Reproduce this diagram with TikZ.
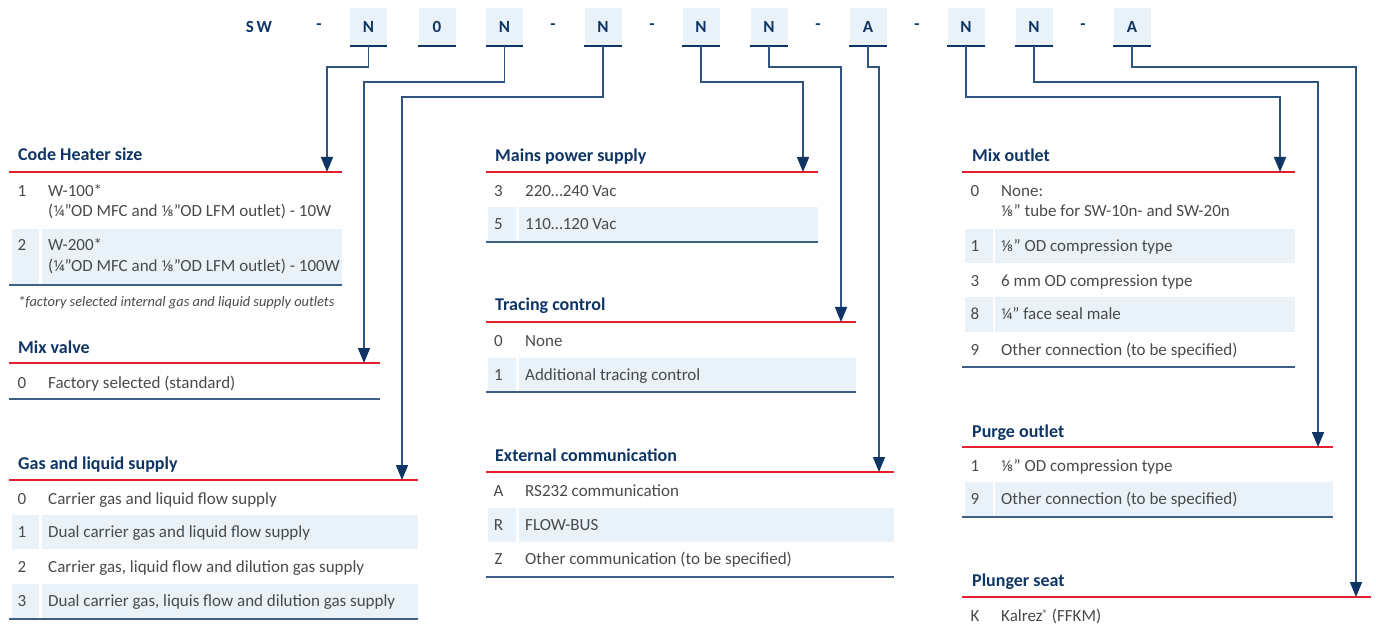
\documentclass[tikz,border=0pt]{standalone}
\usepackage{fontspec}
\setmainfont{Carlito}
\newfontfamily\fracfam{Noto Sans}
\usetikzlibrary{arrows.meta}
\definecolor{navy}{HTML}{0F3565}
\definecolor{redl}{HTML}{E4202F}
\definecolor{shadeblue}{HTML}{E9F1F9}
\definecolor{txtgray}{HTML}{4A4A4A}
\definecolor{botl}{HTML}{3F5F85}
\definecolor{connc}{HTML}{2F5480}
\newcommand\bodyfnt{\fontsize{17}{20}\selectfont}
\newcommand\titlefnt{\fontsize{18}{21}\selectfont\bfseries}
\newcommand\codefnt{\fontsize{17}{20}\selectfont\bfseries}
\newcommand\footfnt{\fontsize{14.4}{17}\selectfont\itshape}
\newcommand\quarterfr{{\fracfam\fontsize{15}{17}\selectfont ¼}}
\newcommand\eighthfr{{\fracfam\fontsize{15}{17}\selectfont ⅛}}
\begin{document}
\begin{tikzpicture}[x=1pt,y=-1pt,
  code/.style={fill=shadeblue, minimum width=37pt, minimum height=38pt, inner sep=0pt, font=\codefnt, text=navy},
  sep/.style={inner sep=0pt, font=\codefnt, text=navy},
  title/.style={anchor=base west, inner sep=0pt, font=\titlefnt, text=navy},
  num/.style={anchor=base, inner sep=0pt, font=\bodyfnt, text=txtgray},
  txt/.style={anchor=base west, inner sep=0pt, font=\bodyfnt, text=txtgray},
  redline/.style={draw=redl, line width=1.5pt},
  botline/.style={draw=botl, line width=2pt},
  conn/.style={draw=connc, line width=1.6pt, -{Triangle[length=15pt,width=12pt,color=navy]}},
  cellfill/.style={fill=shadeblue}]
\useasboundingbox (0,0) rectangle (1376,628);

% ---------- code row ----------
\node[sep] (sw) at (259,27) {S\,W};
\foreach \n/\x in {d1/319,d2/553,d3/652,d4/818,d5/917,d6/1083}
  \node[sep] (\n) at (\x,27) {-};
\foreach \n/\x/\t in {c1/368.5/N,c2/437/0,c3/504.5/N,c4/603/N,c5/701/N,c6/769/N,c7/868/A,c8/966/N,c9/1034/N,c10/1132/A}{
  \node[code] (\n) at (\x,27) {\t};
  \draw[navy, line width=2pt] (\n.south west) -- (\n.south east);
}

% ---------- target coordinates ----------
\coordinate (a1) at (327,172);
\coordinate (a3) at (364,363);
\coordinate (a4) at (402,480);
\coordinate (a5) at (803,172);
\coordinate (a6) at (841,322);
\coordinate (a7) at (879,472);
\coordinate (a8) at (1280,172);
\coordinate (a9) at (1318,447);
\coordinate (a10) at (1356,597);

% ---------- Code Heater size ----------
\node[title] (h1) at (18,161) {Code Heater size};
\fill[cellfill] (12,229) rectangle (39,284);
\fill[cellfill] (42,229) rectangle (342,284);
\draw[redline] (9,172) -- (342,172);
\node[num] (h1n1) at (22,196.5) {1};
\node[txt] (h1t1) at (48,196.5) {W-100*};
\node[txt] (h1t1b) at (48,216.5) {(\quarterfr”OD MFC and \eighthfr”OD LFM outlet) - 10W};
\node[num] (h1n2) at (22,251) {2};
\node[txt] (h1t2) at (48,251) {W-200*};
\node[txt] (h1t2b) at (48,272) {(\quarterfr”OD MFC and \eighthfr”OD LFM outlet) - 100W};
\draw[botline] (9,285) -- (342,285);
\node[txt, font=\footfnt] (fn) at (18,306) {*factory selected internal gas and liquid supply outlets};

% ---------- Mix valve ----------
\node[title] (h2) at (18,353) {Mix valve};
\draw[redline] (9,363) -- (380,363);
\node[num] (h2n1) at (22,388.5) {0};
\node[txt] (h2t1) at (48,388.5) {Factory selected (standard)};
\draw[botline] (9,399) -- (380,399);

% ---------- Gas and liquid supply ----------
\node[title] (h3) at (18,469) {Gas and liquid supply};
\fill[cellfill] (12,515) rectangle (39,549);
\fill[cellfill] (42,515) rectangle (418,549);
\fill[cellfill] (12,584) rectangle (39,618);
\fill[cellfill] (42,584) rectangle (418,618);
\draw[redline] (9,480) -- (418,480);
\node[num] (h3n0) at (22,504.5) {0};
\node[txt] (h3t0) at (48,504.5) {Carrier gas and liquid flow supply};
\node[num] (h3n1) at (22,537.5) {1};
\node[txt] (h3t1) at (48,537.5) {Dual carrier gas and liquid flow supply};
\node[num] (h3n2) at (22,572.5) {2};
\node[txt] (h3t2) at (48,572.5) {Carrier gas, liquid flow and dilution gas supply};
\node[num] (h3n3) at (22,606.5) {3};
\node[txt] (h3t3) at (48,606.5) {Dual carrier gas, liquis flow and dilution gas supply};
\draw[botline] (9,619) -- (418,619);

% ---------- Mains power supply ----------
\node[title] (h4) at (495,162) {Mains power supply};
\fill[cellfill] (488,207) rectangle (516,241);
\fill[cellfill] (519,207) rectangle (818,241);
\draw[redline] (486,172) -- (818,172);
\node[num] (h4n1) at (498.5,196.5) {3};
\node[txt] (h4t1) at (525,196.5) {220…240 Vac};
\node[num] (h4n2) at (498.5,229.5) {5};
\node[txt] (h4t2) at (525,229.5) {110…120 Vac};
\draw[botline] (486,242) -- (818,242);

% ---------- Tracing control ----------
\node[title] (h5) at (495,311) {Tracing control};
\fill[cellfill] (488,358) rectangle (516,391);
\fill[cellfill] (519,358) rectangle (856,391);
\draw[redline] (486,322) -- (856,322);
\node[num] (h5n1) at (498.5,346.5) {0};
\node[txt] (h5t1) at (525,346.5) {None};
\node[num] (h5n2) at (498.5,380.5) {1};
\node[txt] (h5t2) at (525,380.5) {Additional tracing control};
\draw[botline] (486,392) -- (856,392);

% ---------- External communication ----------
\node[title] (h6) at (495,461) {External communication};
\fill[cellfill] (488,508) rectangle (516,542);
\fill[cellfill] (519,508) rectangle (894,542);
\draw[redline] (486,472) -- (894,472);
\node[num] (h6n1) at (498.5,496.5) {A};
\node[txt] (h6t1) at (525,496.5) {RS232 communication};
\node[num] (h6n2) at (498.5,530.5) {R};
\node[txt] (h6t2) at (525,530.5) {FLOW-BUS};
\node[num] (h6n3) at (498.5,564.5) {Z};
\node[txt] (h6t3) at (525,564.5) {Other communication (to be specified)};
\draw[botline] (486,577) -- (894,577);

% ---------- Mix outlet ----------
\node[title] (h7) at (972,162) {Mix outlet};
\fill[cellfill] (965,229) rectangle (993,263);
\fill[cellfill] (995,229) rectangle (1295,263);
\fill[cellfill] (965,297) rectangle (993,332);
\fill[cellfill] (995,297) rectangle (1295,332);
\draw[redline] (962,172) -- (1295,172);
\node[num] (h7n0) at (975,196.5) {0};
\node[txt] (h7t0) at (1001,196.5) {None:};
\node[txt] (h7t0b) at (1001,217) {\eighthfr” tube for SW-10n- and SW-20n};
\node[num] (h7n1) at (975,251.5) {1};
\node[txt] (h7t1) at (1001,251.5) {\eighthfr” OD compression type};
\node[num] (h7n3) at (975,286.5) {3};
\node[txt] (h7t3) at (1001,286.5) {6 mm OD compression type};
\node[num] (h7n8) at (975,319.5) {8};
\node[txt] (h7t8) at (1001,319.5) {\quarterfr” face seal male};
\node[num] (h7n9) at (975,355.5) {9};
\node[txt] (h7t9) at (1001,355.5) {Other connection (to be specified)};
\draw[botline] (962,367) -- (1295,367);

% ---------- Purge outlet ----------
\node[title] (h8) at (972,437) {Purge outlet};
\fill[cellfill] (965,482) rectangle (993,516);
\fill[cellfill] (995,482) rectangle (1333,516);
\draw[redline] (962,447) -- (1333,447);
\node[num] (h8n1) at (975,471.5) {1};
\node[txt] (h8t1) at (1001,471.5) {\eighthfr” OD compression type};
\node[num] (h8n9) at (975,504.5) {9};
\node[txt] (h8t9) at (1001,504.5) {Other connection (to be specified)};
\draw[botline] (962,517) -- (1333,517);

% ---------- Plunger seat ----------
\node[title] (h9) at (972,586) {Plunger seat};
\draw[redline] (962,597) -- (1371,597);
\node[num] (h9n1) at (975,621.5) {K};
\node[txt] (h9t1) at (1001,621.5) {Kalrez\raisebox{4pt}{\fontsize{11}{11}\selectfont ®} (FFKM)};

% ---------- connectors ----------
\draw[conn] (c1.south) -- ++(0,21) -| (a1);
\draw[conn] (c3.south) -- ++(0,36) -| (a3);
\draw[conn] (c4.south) -- ++(0,51) -| (a4);
\draw[conn] (c5.south) -- ++(0,36) -| (a5);
\draw[conn] (c6.south) -- ++(0,21) -| (a6);
\draw[conn] (c7.south) -- ++(0,21) -| (a7);
\draw[conn] (c8.south) -- ++(0,51) -| (a8);
\draw[conn] (c9.south) -- ++(0,36) -| (a9);
\draw[conn] (c10.south) -- ++(0,21) -| (a10);
\end{tikzpicture}
\end{document}
